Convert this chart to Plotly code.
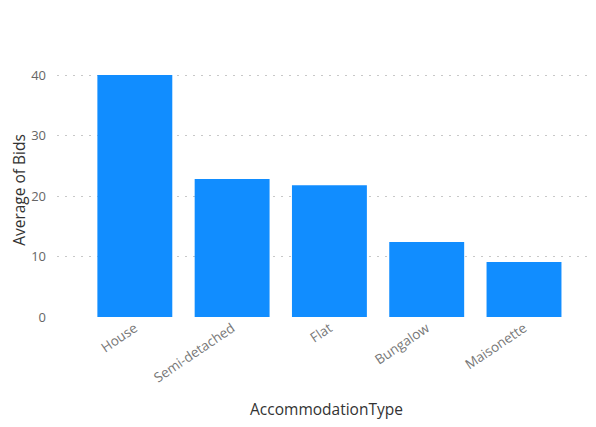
import plotly.graph_objects as go

categories = ["House", "Semi-detached", "Flat", "Bungalow", "Maisonette"]
avg_bids = [40.0, 22.8, 21.8, 12.4, 9.1]
y_ticks = [0, 10, 20, 30, 40]

fig = go.Figure(go.Bar(
    x=categories, y=avg_bids,
    marker=dict(color="#118DFF", line=dict(width=0)),
    width=0.77,
))

fig.update_layout(
    width=588, height=419,
    margin=dict(l=49, r=0, t=55, b=110),
    paper_bgcolor="white", plot_bgcolor="white",
    font=dict(family="Open Sans, Noto Sans, sans-serif", color="#666666", size=12),
    showlegend=False,
    bargap=0.23,
)
fig.update_xaxes(
    range=[-0.80, 4.74],
    tickangle=-34,
    showgrid=False, zeroline=False, showline=False,
    automargin=False,
    tickfont=dict(size=13.5, color="#777777"),
    title=dict(text="AccommodationType", font=dict(size=15.5, color="#333333"), standoff=18),
)
fig.update_yaxes(
    range=[0, 42],
    tickvals=y_ticks,
    showgrid=True, gridcolor="#c8c8c8", griddash="2px,6px", gridwidth=1,
    zeroline=False, showline=False,
    automargin=False,
    ticklabelstandoff=10,
    tickfont=dict(size=13, color="#666666"),
    title=dict(text="Average of Bids", font=dict(size=15.5, color="#333333"), standoff=7),
)

fig.write_html("out.html")
